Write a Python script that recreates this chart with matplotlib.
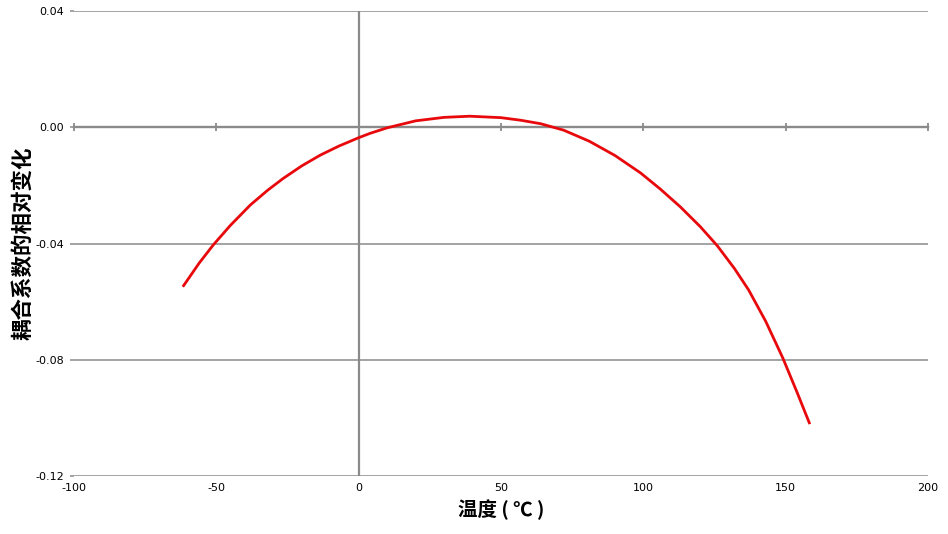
import matplotlib
matplotlib.use("Agg")
import matplotlib.pyplot as plt

temp_c = [-61.5, -56, -51, -45, -38, -32, -26.5, -20, -13.5, -7, 0, 4, 10, 20, 30, 39,
          50, 57, 64, 72, 81, 90, 99, 106, 113, 120, 126, 132, 137, 143, 149, 154, 158.3]
rel_change = [-0.0545, -0.0467, -0.0404, -0.0337, -0.0267, -0.0217, -0.0176, -0.0133,
              -0.0096, -0.0065, -0.0036, -0.0021, -0.0002, 0.0022, 0.0034, 0.0038,
              0.0033, 0.0024, 0.0012, -0.0010, -0.0048, -0.0097, -0.0157, -0.0213,
              -0.0274, -0.0342, -0.0408, -0.0486, -0.0560, -0.0668, -0.0794, -0.0912, -0.1017]

xticks = [-100, -50, 0, 50, 100, 150, 200]
yticks = [-0.12, -0.08, -0.04, 0.00, 0.04]
ytick_labels = ["-0.12", "-0.08", "-0.04", "0.00", "0.04"]
xlabel = "温度 ( ℃ )"
ylabel = "耦合系数的相对变化"

cjk = ["Noto Sans CJK SC", "DejaVu Sans"]
grid_c = "#8a8a8a"

fig = plt.figure(figsize=(9.48, 5.34), dpi=100)
ax = fig.add_axes([74/948, 1-476/534, (928-74)/948, (476-11)/534])

ax.set_xlim(-100, 200)
ax.set_ylim(-0.12, 0.04)

for y in yticks:
    if y != 0:
        ax.axhline(y, color=grid_c, lw=1.1, zorder=1)
ax.axvline(0, color=grid_c, lw=1.6, zorder=1)

for s in ["top", "right", "left"]:
    ax.spines[s].set_visible(False)
ax.spines["bottom"].set_position(("data", 0))
ax.spines["bottom"].set_color(grid_c)
ax.spines["bottom"].set_linewidth(1.7)
ax.spines["bottom"].set_zorder(1)
ax.set_xticks([t for t in xticks if t != 0])
ax.tick_params(axis="x", direction="inout", length=6, width=1.3, color=grid_c,
               labelbottom=False)

ax.set_yticks(yticks)
ax.set_yticklabels(ytick_labels)
ax.tick_params(axis="y", direction="out", length=3, width=1.1, color=grid_c,
               labelsize=8, pad=4)

sec = ax.secondary_xaxis(0.0)
sec.set_xticks(xticks)
sec.set_xticklabels([str(t) for t in xticks])
sec.spines["bottom"].set_visible(False)
sec.tick_params(axis="x", length=0, labelsize=8, pad=5)
sec.set_xlabel(xlabel, family=cjk, fontsize=14, fontweight="bold", labelpad=5)

ax.set_ylabel(ylabel, family=cjk, fontsize=15.5, fontweight="bold")
ax.yaxis.set_label_coords(-0.048, 0.5)

ax.plot(temp_c, rel_change, color="#e8090c", lw=2.0, zorder=3,
        solid_joinstyle="round")

fig.savefig("out.png", dpi=100)
